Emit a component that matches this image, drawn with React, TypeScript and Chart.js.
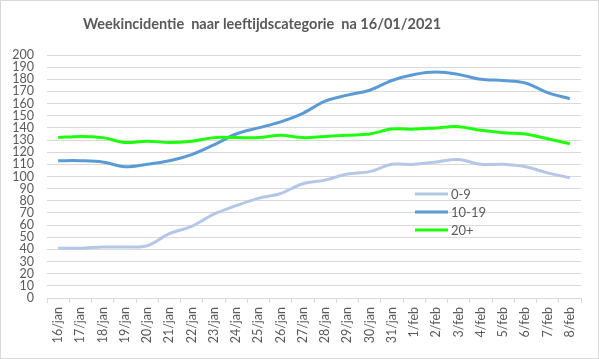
import React, { useEffect, useRef } from "react";
import { Chart, registerables } from "chart.js";

Chart.register(...registerables);

const TITLE = "Weekincidentie  naar leeftijdscategorie  na 16/01/2021";
const categories = [
  "16/jan", "17/jan", "18/jan", "19/jan", "20/jan", "21/jan", "22/jan", "23/jan",
  "24/jan", "25/jan", "26/jan", "27/jan", "28/jan", "29/jan", "30/jan", "31/jan",
  "1/feb", "2/feb", "3/feb", "4/feb", "5/feb", "6/feb", "7/feb", "8/feb",
];
const seriesNames = ["0-9", "10-19", "20+"];
const age0to9 = [41, 41, 42, 42, 43, 53, 59, 69, 76, 82, 86, 94, 97, 102, 104, 110, 110, 112, 114, 110, 110, 108, 103, 99];
const age10to19 = [113, 113, 112, 108, 110, 113, 118, 126, 135, 140, 145, 152, 162, 167, 171, 179, 184, 186, 184, 180, 179, 177, 169, 164];
const age20plus = [132, 133, 132, 128, 129, 128, 129, 132, 132, 132, 134, 132, 133, 134, 135, 139, 139, 140, 141, 138, 136, 135, 131, 127];
const yMin = 0;
const yMax = 200;
const yStep = 10;

const colors = ["#B4C7E7", "#5B9BD5", "#1EFF0E"];
const FONT = "Lato, 'Open Sans', sans-serif";
const TEXT = "#595959";
const GRID = "#D9D9D9";

const titlePlugin = {
  id: "customTitle",
  afterDraw(chart: any) {
    const { ctx } = chart;
    ctx.save();
    ctx.font = `bold 14.5px ${FONT}`;
    ctx.fillStyle = TEXT;
    ctx.textAlign = "center";
    ctx.textBaseline = "middle";
    ctx.fillText(TITLE, 262, 24);
    ctx.restore();
  },
};

const legendPlugin = {
  id: "insideLegend",
  afterDatasetsDraw(chart: any) {
    const { ctx, chartArea } = chart;
    const x0 = chartArea.left + 368;
    const y0 = chartArea.top + 139;
    ctx.save();
    ctx.font = `13px ${FONT}`;
    ctx.textBaseline = "middle";
    ctx.textAlign = "left";
    chart.data.datasets.forEach((ds: any, i: number) => {
      const y = y0 + i * 18;
      ctx.strokeStyle = ds.borderColor;
      ctx.lineWidth = 3;
      ctx.beginPath();
      ctx.moveTo(x0, y);
      ctx.lineTo(x0 + 33, y);
      ctx.stroke();
      ctx.fillStyle = TEXT;
      ctx.fillText(ds.label, x0 + 36, y + 1);
    });
    ctx.restore();
  },
};

const borderPlugin = {
  id: "outerBorder",
  afterDraw(chart: any) {
    const { ctx, width, height } = chart;
    ctx.save();
    ctx.strokeStyle = GRID;
    ctx.lineWidth = 1;
    ctx.strokeRect(0.5, 0.5, width - 1, height - 1);
    ctx.restore();
  },
};

export default function App() {
  const ref = useRef<HTMLCanvasElement | null>(null);
  useEffect(() => {
    document.body.style.margin = "0";
    const values = [age0to9, age10to19, age20plus];
    const chart = new Chart(ref.current as HTMLCanvasElement, {
      type: "line",
      data: {
        labels: categories,
        datasets: seriesNames.map((name, i) => ({
          label: name,
          data: values[i],
          borderColor: colors[i],
          backgroundColor: colors[i],
          borderWidth: 3,
          pointRadius: 0,
          tension: 0.35,
          fill: false,
          order: 3 - i,
        })),
      },
      options: {
        animation: false,
        responsive: false,
        layout: { padding: { left: 0, right: 18, top: 55, bottom: 0 } },
        plugins: {
          legend: { display: false },
          tooltip: { enabled: false },
          title: { display: false },
        },
        scales: {
          x: {
            offset: true,
            grid: {
              offset: true,
              drawOnChartArea: false,
              drawTicks: true,
              tickLength: 5,
              color: GRID,
            },
            border: { display: true, color: GRID },
            ticks: {
              color: TEXT,
              font: { family: FONT, size: 12.5 },
              minRotation: 90,
              maxRotation: 90,
              autoSkip: false,
              padding: 4,
            },
            afterFit(scale: any) {
              scale.height = 61;
            },
          },
          y: {
            min: yMin,
            max: yMax,
            grid: { color: GRID, drawTicks: false },
            border: { display: false },
            ticks: {
              stepSize: yStep,
              autoSkip: false,
              color: TEXT,
              font: { family: FONT, size: 12.5 },
              padding: 13,
            },
            afterFit(scale: any) {
              scale.width = 47;
            },
          },
        },
      },
      plugins: [legendPlugin, borderPlugin, titlePlugin],
    } as any);
    return () => chart.destroy();
  }, []);
  return (
    <div style={{ width: 599, height: 359 }}>
      <canvas ref={ref} width={599} height={359} style={{ display: "block" }} />
    </div>
  );
}
